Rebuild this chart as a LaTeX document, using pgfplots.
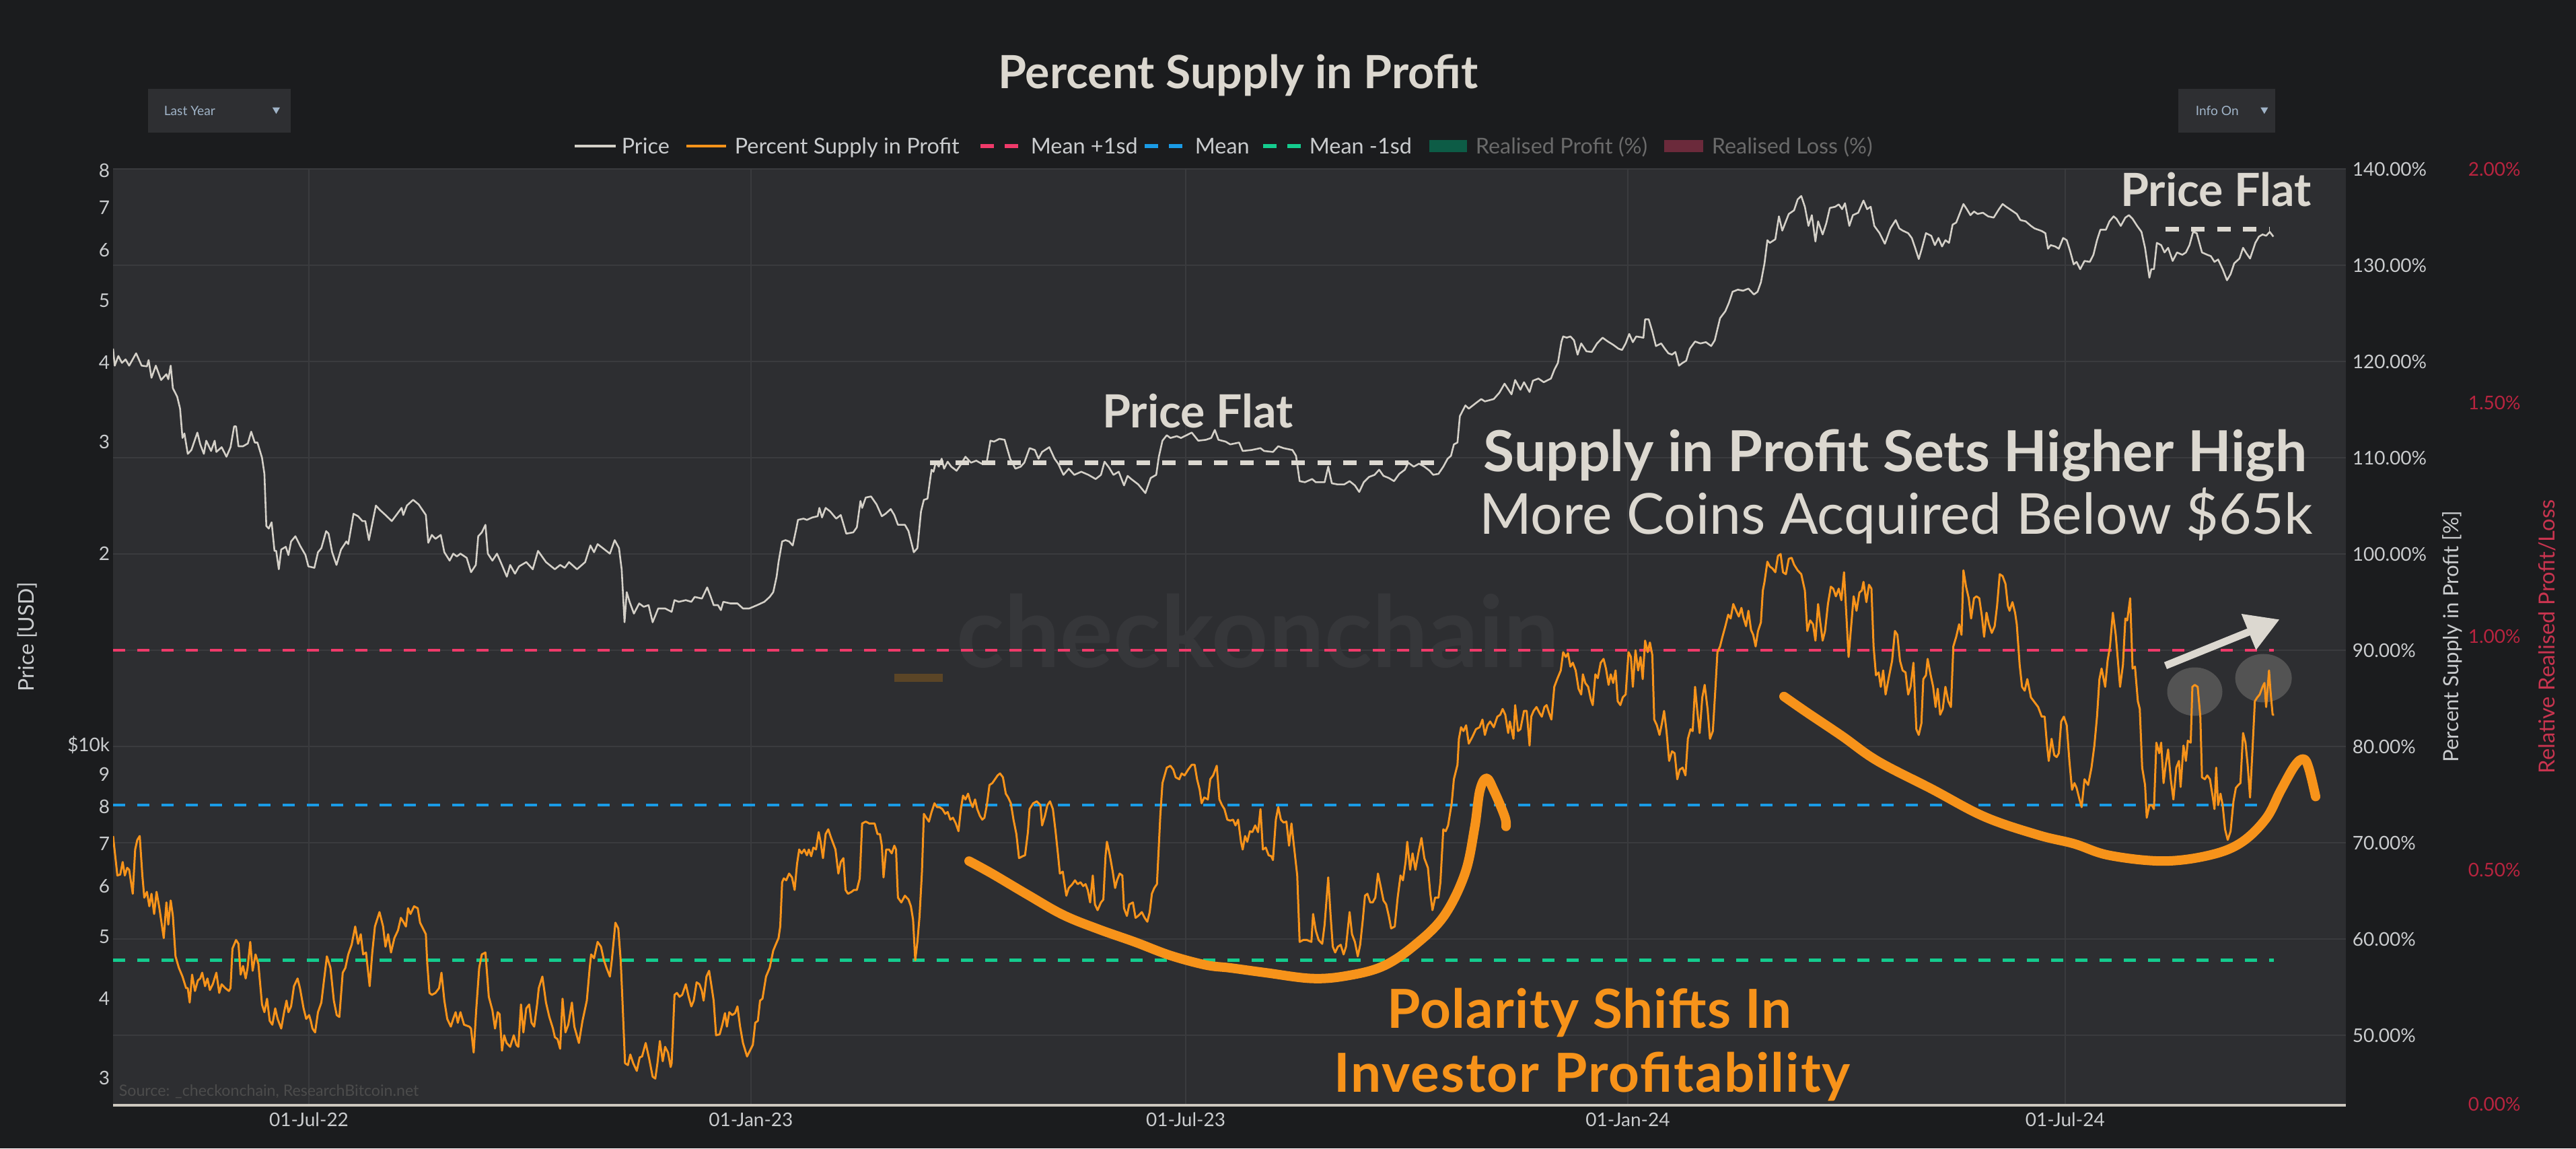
\documentclass[border=0pt]{standalone}
\usepackage{fontspec}
\setmainfont{Lato}
\usepackage{pgfplots}
\pgfplotsset{compat=1.18}
\usetikzlibrary{arrows.meta}
\definecolor{bgout}{HTML}{1B1C1E}
\definecolor{bgplot}{HTML}{2D2E31}
\definecolor{gridc}{HTML}{3A3B3E}
\definecolor{txt}{HTML}{DCD8D0}
\definecolor{tickc}{HTML}{CACCCE}
\definecolor{pricec}{HTML}{D4D0C8}
\definecolor{orangec}{HTML}{F7931A}
\definecolor{pinkc}{HTML}{F03A6A}
\definecolor{bluec}{HTML}{1A9BE6}
\definecolor{greenc}{HTML}{14CC8E}
\definecolor{redax}{HTML}{B8243F}
\definecolor{redlab}{HTML}{C8344F}
\definecolor{wm}{HTML}{36373A}
\definecolor{brownc}{HTML}{5B4526}
\definecolor{axline}{HTML}{CDC8BF}
\definecolor{rpgreen}{HTML}{0D5C46}
\definecolor{rlred}{HTML}{6B2A3B}
\definecolor{leggray}{HTML}{6A6A6A}
\definecolor{dropbg}{HTML}{2E2F32}
\definecolor{droptxt}{HTML}{A0B4C8}
\definecolor{circc}{HTML}{5A5A5A}
\begin{document}
\begin{tikzpicture}[x=1pt,y=1pt]
\fill[bgout] (0,0) rectangle (957,426.5);
\useasboundingbox (0,0) rectangle (957,426.5);

% ---------- Axis A : percent supply in profit ----------
\begin{axis}[
  at={(42pt,16.5pt)}, anchor=south west,
  width=829.5pt, height=347.25pt, scale only axis,
  xmin=-81.5, xmax=847.9, ymin=42.87, ymax=140,
  axis background/.style={fill=bgplot},
  axis line style={draw=none},
  major tick length=0pt, minor tick length=0pt,
  xtick={0,184,365,549,731},
  xticklabels={01-Jul-22,01-Jan-23,01-Jul-23,01-Jan-24,01-Jul-24},
  ytick={50,60,70,80,90,100,110,120,130,140},
  yticklabels={50.00\%,60.00\%,70.00\%,80.00\%,90.00\%,100.00\%,110.00\%,120.00\%,130.00\%,140.00\%},
  yticklabel pos=right,
  grid=major, grid style={gridc, line width=0.5pt},
  ticklabel style={font=\fontsize{7}{8}\selectfont, color=tickc},
  yticklabel style={anchor=west, inner sep=0pt, xshift=2.25pt},
  xticklabel style={anchor=center, inner sep=0pt, yshift=-5.75pt},
]
\node[anchor=base, font=\bfseries\fontsize{36.8}{40}\selectfont, color=wm] at (axis cs:395.1,88.25) {checkonchain};
\fill[brownc] (axis cs:243.7,87.55) rectangle (axis cs:263.9,86.7);
\addplot[pinkc, line width=1.1pt, dash pattern=on 4.6pt off 4.4pt] coordinates {(-81.5,90.0) (818,90.0)};
\addplot[bluec, line width=1.1pt, dash pattern=on 4.6pt off 4.4pt] coordinates {(-81.5,73.9) (818,73.9)};
\addplot[greenc, line width=1.1pt, dash pattern=on 4.6pt off 4.4pt] coordinates {(-81.5,57.8) (818,57.8)};
\fill[circc, opacity=0.85] (axis cs:785.0,85.7) ellipse [x radius=10.25pt, y radius=9pt];
\fill[circc, opacity=0.85] (axis cs:813.6,87.1) ellipse [x radius=10.5pt, y radius=9pt];
\addplot[orangec, line width=0.75pt, line join=round] coordinates {
(-81.5,70.7) (-79.7,66.6) (-78.5,66.7) (-77.5,68.0) (-76.6,66.6) (-75.6,67.4) (-74.8,67.2) (-73.3,64.7) (-72.3,69.3) (-71.4,70.3) (-70.4,70.7) (-69.3,66.6) (-68.5,64.3) (-67.4,64.9) (-66.4,63.4) (-65.5,64.7) (-64.4,62.6) (-63.4,64.9) (-62.2,63.2) (-60.4,60.1) (-59.3,63.8) (-58.5,61.5) (-57.5,64.0) (-56.6,62.4) (-55.5,58.2) (-54.1,57.0) (-52.6,56.1) (-51.1,54.9) (-50.4,54.9) (-49.6,53.4) (-48.6,56.3) (-47.4,54.6) (-46.2,55.7) (-45.2,55.9) (-44.4,56.5) (-43.2,55.1) (-42.2,55.9) (-41.2,54.7) (-40.0,55.3) (-38.5,56.5) (-37.3,54.4) (-36.3,55.3) (-34.8,54.9) (-33.3,54.6) (-32.6,54.9) (-31.8,59.0) (-30.3,59.9) (-29.3,59.5) (-28.4,56.3) (-27.4,57.2) (-26.3,55.9) (-25.5,57.0) (-24.4,59.7) (-23.4,56.7) (-22.2,58.4) (-21.0,57.4) (-19.5,53.2) (-18.5,52.4) (-17.4,53.8) (-16.3,51.5) (-15.2,51.1) (-14.0,52.8) (-13.0,51.7) (-11.5,50.7) (-10.3,52.4) (-9.3,53.6) (-8.5,52.4) (-7.4,53.0) (-6.2,55.1) (-4.7,55.9) (-3.7,54.9) (-2.2,52.8) (-1.1,51.7) (0.1,52.1) (0.8,51.5) (1.5,50.7) (2.6,50.3) (3.8,52.4) (5.2,53.4) (6.3,55.7) (7.5,58.2) (9.0,57.0) (10.4,53.6) (11.6,52.1) (12.7,51.9) (14.1,56.5) (15.2,57.0) (16.4,58.4) (17.8,59.4) (19.3,61.3) (20.5,59.5) (21.6,60.5) (22.6,58.4) (23.8,58.6) (25.3,55.1) (26.4,58.6) (27.5,61.3) (29.4,62.8) (30.9,61.3) (31.9,59.2) (33.0,60.5) (34.2,58.6) (35.6,60.1) (37.1,60.9) (38.3,62.2) (39.3,61.8) (40.4,61.3) (41.3,63.2) (42.3,62.6) (43.8,63.4) (45.3,63.2) (46.3,61.7) (47.5,61.1) (48.7,60.5) (49.3,57.4) (50.2,54.4) (51.2,54.2) (52.7,54.4) (54.2,54.9) (55.2,56.5) (56.4,53.6) (57.6,51.7) (59.1,50.9) (60.1,51.7) (61.1,52.4) (62.0,51.3) (63.1,52.4) (64.6,51.1) (66.8,50.9) (67.5,50.7) (68.6,48.2) (69.7,52.8) (70.9,57.0) (72.0,58.4) (73.5,58.6) (74.9,54.0) (76.4,52.6) (77.5,50.7) (78.6,52.4) (79.4,52.2) (80.4,48.4) (81.3,50.0) (82.3,49.2) (83.8,48.8) (85.3,50.0) (86.4,49.0) (87.2,48.8) (88.3,53.2) (89.3,50.3) (90.5,52.8) (91.7,53.2) (92.7,51.3) (93.8,50.9) (95.0,53.2) (95.7,54.9) (97.2,56.1) (98.7,53.4) (100.1,51.9) (101.6,50.7) (102.4,49.8) (103.5,49.6) (104.6,48.6) (105.6,53.8) (106.8,50.3) (108.0,51.1) (109.5,53.4) (110.5,50.9) (112.4,49.2) (113.9,51.5) (115.7,53.6) (116.9,57.0) (117.5,58.4) (118.7,58.0) (120.2,59.7) (121.6,59.2) (122.8,57.8) (123.9,57.0) (125.3,56.1) (126.1,57.8) (127.6,61.7) (128.8,61.1) (129.8,57.8) (130.5,53.8) (131.6,47.1) (132.8,46.9) (133.8,48.0) (135.0,47.1) (136.5,46.3) (137.7,47.7) (138.7,47.8) (140.2,49.2) (141.7,47.5) (143.1,45.7) (144.2,45.5) (145.1,47.1) (146.1,49.4) (147.3,47.3) (148.3,48.8) (149.5,48.2) (150.6,46.7) (151.0,47.1)
(152.2,54.2) (153.2,54.4) (154.3,54.0) (155.4,54.2) (156.9,55.3) (158.1,54.0) (159.2,53.0) (160.2,53.6) (161.4,55.5) (162.6,55.3) (163.6,54.6) (164.3,53.6) (165.5,56.1) (166.6,56.7) (167.6,55.1) (168.5,53.6) (169.5,50.0) (171.0,50.1) (172.1,51.1) (173.2,52.3) (174.0,50.9) (175.0,52.4) (176.2,52.1) (177.4,52.3) (178.4,53.0) (179.5,50.9) (180.7,49.2) (182.4,47.8) (183.6,48.4) (184.8,49.0) (185.8,51.3) (186.9,51.5) (187.8,53.6) (188.8,53.8) (190.3,56.1) (191.8,57.0) (193.3,58.8) (194.3,59.4) (195.5,60.1) (196.2,61.3) (197.0,65.9) (197.7,66.3) (198.7,66.1) (199.9,66.8) (201.1,66.4) (202.2,65.1) (203.2,67.8) (204.1,69.3) (205.1,68.9) (206.2,69.3) (207.3,68.7) (208.1,69.3) (209.1,68.6) (210.0,69.5) (211.1,69.3) (212.2,71.1) (213.0,70.1) (214.0,68.4) (215.1,70.9) (216.2,71.4) (217.4,70.5) (219.2,69.3) (220.4,66.8) (221.4,68.0) (222.5,68.4) (223.4,65.1) (224.4,64.7) (225.9,64.9) (226.9,65.1) (228.1,65.1) (229.3,66.3) (230.3,72.0) (231.8,72.2) (233.3,72.0) (235.5,72.0) (236.7,70.9) (237.7,70.9) (238.5,69.7) (239.2,66.4) (240.3,69.3) (241.5,69.3) (242.6,68.9) (243.7,69.7) (244.4,69.3) (245.2,64.3) (246.6,63.8) (248.1,64.5) (249.6,64.1) (250.6,63.4) (251.5,62.0) (252.4,57.8) (253.3,59.7) (254.2,62.4) (255.2,67.0) (256.0,73.0) (257.0,72.6) (258.1,72.2) (259.2,73.2) (260.4,74.1) (261.5,73.7) (262.5,73.7) (263.7,73.5) (264.9,73.0) (265.9,73.2) (267.0,72.4) (268.1,72.6) (269.3,72.0) (270.4,71.2) (271.4,73.5) (272.3,74.9) (273.3,74.5) (274.4,75.1) (275.3,74.3) (276.3,73.7) (277.3,74.5) (278.2,73.5) (279.3,72.8) (280.3,72.4) (281.2,72.6) (282.2,73.9) (283.3,76.0) (284.5,76.2) (285.6,76.6) (286.7,77.0) (287.7,77.2) (288.9,76.8) (290.1,75.1) (291.1,74.7) (292.2,74.1) (293.3,72.4) (294.5,70.9) (295.6,68.4) (297.1,68.6) (298.1,68.7) (299.3,71.1) (300.0,73.5) (301.5,74.1) (303.0,74.3) (304.5,73.9) (305.2,71.8) (306.4,72.8) (307.4,73.9) (308.5,74.3) (309.7,73.5) (310.8,71.2) (311.9,68.6) (312.6,66.8) (313.8,67.0) (315.3,64.5) (316.3,65.3) (317.8,65.7) (318.9,66.1) (320.0,65.7) (321.2,65.9) (322.3,65.5) (323.3,65.7) (324.2,65.1) (325.2,63.8) (326.3,66.6) (327.2,63.6) (328.3,63.0) (329.7,63.8) (330.7,64.1) (331.6,68.6) (332.2,70.1) (333.4,68.7) (334.6,67.0) (335.6,65.3) (336.4,66.1) (337.5,66.8) (338.6,66.6) (339.3,63.2) (340.5,62.4) (341.5,63.6) (343.0,63.8) (344.1,62.2) (345.2,62.4) (346.7,62.8) (347.9,62.2) (349.0,61.8) (350.0,62.8) (350.9,64.7) (351.9,65.3) (353.0,65.7) (353.8,69.7) (354.4,72.8) (355.3,76.2) (357.1,77.8) (358.6,78.0) (359.8,77.6) (360.8,76.8) (362.3,76.6) (363.3,77.2) (364.5,77.0) (366.0,77.6) (367.5,78.1) (368.7,78.1) (369.7,76.6) (370.8,75.5) (371.6,74.1) (372.7,74.7) (374.2,74.5) (375.2,76.6) (376.4,77.0) (377.9,78.0) (379.0,74.5) (380.1,73.9) (381.1,73.5) (382.3,72.4) (383.5,72.3)
(384.7,72.4) (385.7,71.8) (386.8,72.4) (388.0,70.1) (388.7,69.3) (389.7,70.7) (390.6,70.1) (391.7,71.2) (392.7,71.1) (393.9,71.8) (395.1,71.1) (396.1,73.5) (397.1,69.3) (398.3,69.5) (399.5,68.7) (400.6,68.6) (401.3,68.2) (402.5,72.4) (403.5,73.7) (404.6,72.4) (405.7,72.1) (406.9,72.2) (408.0,69.7) (409.0,72.0) (410.2,69.3) (411.4,66.6) (412.4,59.7) (413.9,59.9) (415.4,59.9) (417.3,59.7) (418.0,62.6) (419.1,60.9) (420.3,59.9) (421.8,59.5) (422.8,61.5) (424.3,66.4) (425.3,62.4) (426.2,59.2) (427.2,58.6) (428.3,59.2) (429.5,59.4) (430.7,58.4) (431.7,59.2) (433.2,62.8) (434.2,60.5) (435.4,59.7) (436.6,58.2) (437.6,59.4) (438.7,62.0) (439.6,64.5) (440.6,64.7) (441.8,63.8) (442.8,63.8) (443.9,64.3) (445.0,66.8) (446.1,65.5) (447.3,64.0) (448.4,63.6) (449.5,62.4) (450.5,61.1) (452.0,61.3) (453.2,64.3) (454.4,66.6) (455.4,66.1) (456.5,68.0) (457.2,70.1) (458.4,67.2) (459.4,68.9) (460.6,67.2) (461.8,68.9) (463.1,70.5) (464.3,68.4) (465.8,67.4) (466.8,64.7) (467.7,63.0) (468.8,64.3) (470.2,64.3) (471.0,65.9) (472.2,71.4) (473.2,71.2) (474.2,71.8) (475.1,73.2) (475.7,74.1) (476.6,76.6) (478.1,78.1) (478.7,80.8) (479.6,82.0) (480.6,81.6) (481.7,82.2) (482.8,80.3) (484.3,81.0) (485.8,81.8) (487.3,82.0) (488.5,82.8) (489.5,81.2) (490.6,82.2) (491.7,82.6) (493.2,82.0) (494.7,83.1) (495.9,83.3) (496.9,83.9) (498.0,83.3) (499.2,81.4) (499.9,82.6) (501.4,80.8) (502.1,84.3) (503.3,81.6) (504.3,81.8) (505.8,83.7) (506.9,83.7) (508.1,80.1) (508.8,83.1) (509.8,83.7) (511.0,84.1) (512.2,83.5) (513.2,83.1) (514.3,84.1) (515.2,84.3) (516.2,83.5) (517.2,82.8) (518.4,86.2) (519.6,87.0) (521.1,87.9) (522.1,89.8) (523.2,89.3) (524.1,89.7) (525.1,88.3) (526.1,88.7) (527.3,87.9) (528.5,86.0) (529.6,85.4) (530.3,87.5) (531.3,86.6) (532.5,86.2) (533.6,84.9) (534.4,84.3) (535.5,87.5) (536.5,87.1) (537.7,88.7) (538.9,89.1) (539.9,88.1) (541.0,86.4) (541.9,87.5) (542.9,86.6) (543.9,87.9) (544.8,84.7) (545.9,84.3) (546.9,85.1) (548.1,85.4) (549.3,89.8) (550.3,89.3) (551.1,86.2) (552.2,90.0) (553.3,87.9) (554.3,89.3) (555.2,87.0) (556.2,91.0) (557.3,89.8) (558.2,90.8) (559.2,89.5) (560.0,82.8) (561.1,82.2) (562.2,81.2) (563.2,82.4) (564.1,83.7) (565.1,81.6) (566.2,78.5) (567.4,79.5) (568.5,79.3) (569.6,76.6) (570.6,77.6) (571.8,77.8) (573.0,77.0) (574.0,80.8) (575.1,81.8) (576.0,81.6) (577.0,86.2) (578.0,83.5) (578.9,81.4) (580.0,85.1) (581.0,86.4) (582.2,83.9) (583.2,80.8) (584.4,81.6) (585.5,86.2) (586.3,89.8) (587.4,90.4) (588.4,91.4) (589.6,92.5) (590.8,93.7) (591.8,93.3) (592.9,94.8) (594.1,94.1) (595.2,93.5) (596.3,94.4) (597.0,93.5) (598.2,92.5) (599.2,94.1) (600.3,92.1) (601.2,91.6) (602.2,90.4) (603.2,92.0) (604.4,92.9) (605.2,96.2) (605.9,97.1) (607.1,99.2) (608.1,98.7) (609.2,98.5) (610.4,98.1) (611.5,99.8) (612.6,100.0) (613.6,98.1) (614.8,97.9) (616.0,99.5)
(617.2,99.6) (618.2,98.9) (619.7,98.3) (621.2,97.9) (622.7,96.2) (623.7,92.0) (624.9,93.1) (626.1,92.7) (627.1,91.0) (628.2,94.8) (629.0,93.1) (630.1,91.0) (631.1,92.0) (632.3,94.8) (633.5,96.6) (634.5,96.4) (635.6,95.6) (636.8,96.4) (637.9,95.2) (639.0,98.1) (640.0,93.5) (640.9,89.3) (641.9,92.3) (643.0,95.6) (644.2,94.1) (645.4,96.0) (646.4,96.2) (647.1,97.1) (648.3,95.0) (649.4,96.8) (650.4,96.4) (651.3,90.4) (652.3,87.4) (653.4,87.7) (654.3,86.2) (655.3,87.9) (656.3,85.4) (657.5,87.0) (659.0,88.9) (660.2,92.0) (661.2,91.6) (662.3,88.9) (663.4,87.9) (664.6,87.7) (665.7,85.4) (666.7,86.2) (667.9,88.7) (669.1,81.8) (670.1,81.2) (671.2,82.4) (672.0,87.0) (673.1,87.4) (673.8,89.1) (675.0,87.5) (676.1,86.2) (677.1,84.1) (678.0,86.0) (679.0,83.3) (680.1,83.9) (681.2,86.2) (682.4,84.7) (683.5,84.1) (684.5,90.4) (685.7,91.4) (686.9,92.7) (687.9,91.6) (688.7,98.3) (689.8,96.6) (690.9,95.4) (691.9,93.3) (693.1,95.4) (694.1,95.6) (695.3,95.4) (696.4,93.5) (697.3,91.4) (698.3,93.9) (699.3,92.7) (700.5,91.8) (701.7,92.5) (702.7,94.6) (703.8,97.9) (705.0,97.7) (706.2,96.9) (707.2,94.6) (707.9,94.1) (709.1,95.0) (710.2,93.9) (710.9,92.7) (712.1,88.5) (713.1,86.2) (714.2,85.8) (715.3,87.0) (716.8,85.1) (718.0,84.7) (719.8,84.1) (721.3,83.1) (722.5,83.1) (723.5,80.1) (724.2,78.5) (725.4,80.8) (726.5,79.1) (727.5,78.9) (728.4,79.3) (729.4,82.6) (730.5,83.1) (731.7,82.2) (732.8,78.5) (733.9,75.5) (734.9,76.2) (735.8,75.7) (736.8,74.7) (737.9,73.7) (739.1,76.6) (740.6,76.0) (742.0,77.8) (743.2,80.1) (744.3,83.1) (745.3,87.0) (746.2,88.1) (747.7,86.2) (748.7,88.9) (749.7,90.4) (750.9,93.9) (752.1,91.6) (753.2,88.3) (753.9,86.2) (755.1,88.5) (756.1,93.3) (756.9,93.1) (758.1,95.4) (759.1,88.1) (760.1,88.3) (761.3,84.7) (762.1,83.9) (763.1,77.8) (764.3,76.0) (765.0,72.6) (766.1,73.9) (767.2,73.9) (768.0,73.5) (769.0,80.4) (770.2,79.3) (771.0,80.4) (772.0,76.2) (772.9,78.1) (773.9,79.7) (775.0,76.6) (776.1,74.5) (777.3,77.8) (778.4,78.5) (779.1,75.8) (780.3,80.1) (781.3,78.5) (782.1,80.6) (783.3,80.4) (784.0,86.2) (785.0,86.4) (786.2,86.2) (787.3,83.1) (788.0,76.8) (789.2,76.6) (790.2,77.0) (791.3,76.6) (792.5,74.7) (793.2,73.5) (793.9,77.8) (794.7,73.9) (795.7,75.1) (796.6,73.9) (797.6,71.4) (798.7,70.3) (799.9,71.2) (801.1,74.3) (802.1,75.7) (803.1,76.0) (804.0,76.2) (805.1,81.4) (806.1,80.4) (807.0,78.1) (808.0,74.7) (809.1,80.1) (810.0,84.7) (811.0,85.1) (812.0,85.4) (813.2,86.2) (814.0,86.6) (814.7,84.1) (815.9,87.9) (816.5,85.8) (817.4,83.3) (818.0,83.3)
};
% hand drawn annotation curves
\draw[orangec, line width=3.5pt, line cap=round, line join=round] plot[smooth, tension=0.6] coordinates {(274.8,68.1) (284.3,66.8) (299.2,64.6) (314.0,62.5) (328.9,61.0) (343.7,59.7) (358.5,58.3) (373.4,57.3) (383.5,57.0) (398.3,56.5) (417.6,55.9) (432.5,56.2) (447.3,57.2) (460.5,59.4) (472.5,62.4) (481.2,66.8) (485.2,71.5) (487.4,75.4) (490.2,76.7) (493.3,75.4) (497.8,72.7) (498.3,71.7)};
\draw[orangec, line width=3.5pt, line cap=round, line join=round] plot[smooth, tension=0.6] coordinates {(614.0,85.2) (623.2,83.6) (638.1,81.1) (652.9,78.5) (675.4,75.6) (697.5,72.7) (719.9,70.8) (734.7,69.9) (749.3,68.7) (771.7,68.1) (791.0,68.7) (804.2,70.0) (814.6,72.5) (820.7,75.4) (826.6,78.0) (830.3,78.7) (832.5,77.7) (835.3,74.8)};
\draw[txt, line width=2.75pt, -{Triangle[length=12.4pt, width=13.7pt]}] (772.8,88.4) -- (820.3,93.2);
\end{axis}

% ---------- Axis B : price (log) ----------
\begin{axis}[
  at={(42pt,16.5pt)}, anchor=south west,
  width=829.5pt, height=347.25pt, scale only axis,
  xmin=-81.5, xmax=847.9, ymode=log, ymin=2729, ymax=80500,
  axis line style={draw=none},
  major tick length=0pt, minor tick length=0pt,
  xtick=\empty, minor ytick={},
  ytick={3000,4000,5000,6000,7000,8000,9000,10000,20000,30000,40000,50000,60000,70000,80000},
  yticklabels={3,4,5,6,7,8,9,\$10k,2,3,4,5,6,7,8},
  ticklabel style={font=\fontsize{7}{8}\selectfont, color=tickc},
  yticklabel style={anchor=east, inner sep=0pt, xshift=-1pt},
]
\addplot[pricec, line width=0.65pt, line join=round] coordinates {
(-81.5,42000) (-80.8,39500) (-79.3,40900) (-77.8,39900) (-76.3,40400) (-74.8,39500) (-71.9,41300) (-69.6,39500) (-67.4,39400) (-66.7,40300) (-65.5,37800) (-63.7,39500) (-61.5,37500) (-59.3,38300) (-58.5,37600) (-57.5,39500) (-56.6,36400) (-54.8,35300) (-53.6,33800) (-52.6,30400) (-51.8,30900) (-50.4,28700) (-48.9,29100) (-46.4,31000) (-45.2,29700) (-43.7,28700) (-42.7,30100) (-40.7,29000) (-39.2,30100) (-38.5,28900) (-36.3,29400) (-34.3,28400) (-32.6,29400) (-31.1,31700) (-30.3,31700) (-29.3,29500) (-27.4,29500) (-25.4,29800) (-24.0,31100) (-22.5,29900) (-21.4,29900) (-19.5,28300) (-18.5,26700) (-17.7,22100) (-16.7,21900) (-15.5,22400) (-14.3,20200) (-13.6,20200) (-12.5,18900) (-11.5,20300) (-9.6,20500) (-8.5,19900) (-7.4,20900) (-5.6,21300) (-3.7,20600) (-1.4,19900) (-0.2,19100) (2.3,19000) (3.8,20100) (5.2,20400) (7.2,21700) (8.2,21500) (9.7,20100) (11.5,19200) (13.4,20300) (15.6,20900) (16.4,20700) (18.6,23100) (20.5,22900) (22.3,22500) (23.5,22500) (25.0,21000) (27.9,23800) (29.7,23400) (31.9,23000) (34.5,22500) (36.4,23000) (38.6,23600) (39.3,23000) (40.8,23800) (43.4,24300) (45.7,23900) (48.7,23000) (49.7,20800) (51.2,21400) (52.7,21100) (54.9,21400) (56.4,20100) (58.6,19500) (60.1,20000) (61.6,19800) (63.1,20000) (65.7,19700) (67.5,18700) (69.5,19200) (70.5,21300) (72.0,21600) (73.5,22200) (74.5,20000) (76.4,19500) (78.3,20000) (80.1,19300) (82.4,18400) (83.8,19200) (85.8,18600) (87.5,19100) (90.5,19400) (93.2,18900) (95.4,20200) (98.7,19400) (102.4,18900) (104.6,19200) (106.5,19000) (108.3,19400) (111.6,18900) (115.0,19400) (117.2,20600) (118.7,20100) (120.2,20700) (123.1,20300) (125.3,20000) (127.3,21000) (129.1,20400) (130.2,18900) (131.4,15600) (132.3,17400) (133.5,16800) (135.3,16100) (137.5,16700) (139.4,16500) (141.4,16600) (143.1,15600) (145.4,16400) (148.3,16400) (151.0,16200)
(152.2,16900) (154.0,16800) (156.9,16900) (159.2,16800) (160.6,17100) (163.6,17000) (165.8,17700) (167.3,17100) (168.5,16600) (170.3,16600) (171.5,16300) (172.5,16800) (175.5,16700) (178.4,16700) (180.7,16400) (183.3,16400) (186.6,16600) (189.6,16800) (191.8,17100) (193.3,17400) (194.7,18400) (195.5,19400) (197.0,20900) (198.4,21000) (199.9,20900) (201.4,20600) (202.9,21900) (203.6,22600) (205.9,22700) (207.3,22600) (209.6,22800) (211.8,22900) (212.5,23600) (213.6,22800) (215.1,23600) (217.0,23300) (219.5,22700) (221.4,23000) (223.7,21500) (226.6,21600) (228.1,22000) (229.6,24200) (230.3,23600) (231.8,24500) (234.0,24600) (236.3,23900) (238.5,22900) (240.0,23100) (242.2,23500) (243.7,23000) (245.2,22200) (248.1,22200) (249.6,21700) (251.8,20100) (253.3,20400) (254.8,23300) (256.0,24300) (257.5,24400) (258.5,26000) (259.2,27100) (260.0,26900) (261.0,27900) (262.2,27400) (263.4,28200) (264.4,27200) (265.9,27900) (267.4,27400) (269.6,27000) (271.1,27500) (273.3,28400) (275.6,27800) (277.8,28000) (280.0,27700) (282.2,27900) (283.7,30100) (285.2,30000) (287.4,30300) (289.6,30200) (291.9,28200) (294.1,27200) (296.3,27400) (297.8,27800) (300.0,29300) (302.2,29100) (303.7,28200) (305.2,28900) (308.2,29400) (310.4,28200) (311.9,27700) (314.1,26600) (316.3,27200) (318.6,26600) (321.5,26900) (324.5,26600) (327.5,26200) (329.7,26600) (331.2,27900) (333.1,27300) (334.9,26600) (337.1,26900) (339.3,25600) (340.8,26500) (342.3,26200) (345.2,25700) (348.2,24900) (350.4,26300) (352.7,26600) (353.8,28400) (355.3,30100) (357.1,30700) (358.6,30400) (361.3,30600) (363.0,30400) (365.3,30700) (367.5,31000) (370.2,30100) (373.4,30200) (375.6,30400) (377.1,31300) (378.6,30200) (381.6,30000) (383.5,29700)
(387.2,29900) (388.7,29000) (392.4,29100) (396.1,29300) (397.6,29000) (401.3,28900) (403.5,29500) (405.7,29300) (409.4,29100) (410.9,28500) (412.4,26000) (414.6,25900) (417.6,26200) (419.1,25900) (422.8,25900) (424.3,27400) (425.8,25800) (428.0,25700) (431.0,25700) (433.2,26000) (435.4,25600) (437.2,25000) (439.1,25900) (441.3,26400) (443.6,26600) (445.5,27100) (447.3,26500) (449.5,26300) (451.7,26000) (453.9,26700) (456.2,27100) (457.6,27800) (459.9,27400) (462.1,27700) (464.3,27400) (466.5,27000) (468.0,26600) (470.2,26700) (472.2,27400) (474.0,28200) (475.4,28500) (476.6,29700) (478.1,29900) (479.1,32900) (481.4,34200) (482.8,33800) (485.8,34500) (488.0,35000) (489.5,34700) (493.2,35000) (495.5,35800) (497.7,37000) (500.6,35600) (502.1,37500) (504.3,36200) (505.8,37200) (508.1,35900) (509.5,37400) (511.8,37700) (514.0,37200) (517.0,37700) (518.4,38900) (519.9,39900) (521.4,43100) (522.1,43900) (523.6,43700) (525.1,43900) (526.6,43300) (528.1,41100) (529.6,42800) (531.8,41600) (534.0,41500) (536.2,42800) (538.5,43700) (540.7,43100) (542.9,42600) (545.1,42000) (546.6,41800) (548.1,42800) (549.6,44300) (551.1,43000) (552.5,43900) (555.5,43700) (556.2,46700) (557.7,46700) (559.2,44700) (560.7,42400) (562.9,42800) (564.4,42000) (565.9,41300) (567.4,41100) (568.8,41500) (570.3,39500) (571.8,39900) (573.3,40200) (574.8,42000) (577.0,43100) (579.2,42800) (581.5,43000) (583.7,42400) (585.2,43300) (587.4,46900) (589.6,48100) (591.1,49600) (592.6,51600) (594.8,52000) (597.0,51800) (599.2,52200) (601.5,51100) (603.0,51600) (604.4,53400) (605.9,57200) (607.1,62200) (608.1,61600) (610.4,62400) (611.9,67800) (613.3,64400) (614.8,66600) (616.0,68400)
(618.2,69300) (619.7,72100) (621.2,73000) (622.7,70200) (624.2,65500) (625.6,68100) (627.1,61900) (628.2,66600) (630.1,63500) (631.6,66100) (633.1,69900) (635.3,70200) (636.8,70800) (638.2,69600) (639.4,71100) (641.2,65500) (642.7,68100) (644.9,68700) (647.1,71800) (648.6,69600) (650.1,70200) (651.6,65500) (653.8,63800) (656.0,61400) (658.3,64900) (660.5,66900) (662.0,64900) (663.4,64400) (665.7,63800) (667.2,62700) (668.6,60500) (670.1,58100) (671.2,60000) (673.1,63800) (675.3,63200) (676.8,61100) (678.3,62700) (679.8,60800) (681.2,62200) (682.7,61600) (684.2,65800) (685.7,66300) (688.7,70900) (690.1,69600) (691.6,68100) (693.1,69000) (694.6,68400) (696.8,68700) (699.0,67800) (701.3,67500) (703.5,69600) (705.0,70900) (706.5,70200) (708.7,69300) (710.9,68400) (712.4,66900) (714.6,66600) (716.8,65500) (718.3,64900) (719.8,64600) (721.3,64300) (722.8,63800) (723.9,60300) (725.0,61100) (726.9,60800) (728.4,60300) (730.2,62700) (731.7,62200) (733.1,59800) (734.6,57000) (735.8,57500) (737.3,56000) (739.1,57700) (741.3,57500) (742.8,59000) (744.3,62200) (745.7,64600) (748.0,64600) (749.5,66600) (751.2,67800) (752.4,67200) (754.2,65500) (756.1,67500) (757.6,68100) (759.1,67200) (761.0,65500) (762.8,64100) (764.3,60500) (766.1,54300) (766.9,56000) (768.0,56000) (769.2,61600) (771.0,61100) (772.4,59500) (773.9,60500) (775.8,57700) (777.6,59500) (779.8,59000) (781.3,59500) (782.8,61100) (784.3,64100) (785.8,63800) (788.0,59500) (790.2,59000) (791.7,58700) (793.2,57500) (794.7,58000) (796.6,56000) (798.4,53800) (799.9,55000) (801.4,57200) (803.6,58200) (805.1,60500) (806.5,59300) (808.0,58200) (810.2,61600) (811.7,63000) (813.2,63500) (814.7,63200) (816.2,64100) (817.7,63000)
};
\draw[txt, line width=1.75pt, dash pattern=on 5pt off 4.6pt] (258.5,27800) -- (471.7,27800);
\draw[txt, line width=1.75pt, dash pattern=on 5pt off 4.6pt] (772.8,64800) -- (816.2,64800);
\end{axis}

% ---------- Axis C : relative realised profit/loss ----------
\begin{axis}[
  at={(42pt,16.5pt)}, anchor=south west,
  width=829.5pt, height=347.25pt, scale only axis,
  xmin=-81.5, xmax=847.9, ymin=0, ymax=2,
  axis line style={draw=none},
  major tick length=0pt, minor tick length=0pt,
  xtick=\empty,
  ytick={0,0.5,1,1.5,2},
  yticklabels={0.00\%,0.50\%,1.00\%,1.50\%,2.00\%},
  yticklabel pos=right,
  ticklabel style={font=\fontsize{7}{8}\selectfont, color=redax},
  yticklabel style={anchor=west, inner sep=0pt, xshift=45.25pt},
]
\end{axis}

% bottom axis line
\draw[axline, line width=1pt] (42,16.1) -- (871.5,16.1);

% source
\node[anchor=base west, inner sep=0pt, font=\fontsize{5.8}{7}\selectfont, color=leggray!120] at (44,19.5) {Source: \_checkonchain, ResearchBitcoin.net};

% title
\node[anchor=base, font=\bfseries\fontsize{17}{20}\selectfont, color=txt] at (460,393.5) {Percent Supply in Profit};

% dropdowns
\fill[dropbg] (55,377.2) rectangle (108,393.5);
\node[anchor=west, inner sep=0pt, font=\fontsize{4.8}{6}\selectfont, color=droptxt] at (60.75,385.4) {Last Year};
\fill[droptxt] (101.2,386.6) -- (104.0,386.6) -- (102.6,384.2) -- cycle;
\fill[dropbg] (809.25,377.2) rectangle (845.25,393.5);
\node[anchor=west, inner sep=0pt, font=\fontsize{4.8}{6}\selectfont, color=droptxt] at (815.5,385.4) {Info On};
\fill[droptxt] (839.8,386.6) -- (842.6,386.6) -- (841.2,384.2) -- cycle;

% legend
\begin{scope}[font=\fontsize{8.1}{9}\selectfont]
\draw[pricec, line width=1pt] (213.5,372.25) -- (228.75,372.25);
\node[anchor=base west, inner sep=0pt, color=tickc] at (230.75,369.3) {Price};
\draw[orangec, line width=1pt] (255,372.25) -- (269.75,372.25);
\node[anchor=base west, inner sep=0pt, color=tickc] at (272.75,369.3) {Percent Supply in Profit};
\draw[pinkc, line width=1.4pt, dash pattern=on 5pt off 4pt] (364.25,372.25) -- (378.25,372.25);
\node[anchor=base west, inner sep=0pt, color=tickc] at (382.75,369.3) {Mean +1sd};
\draw[bluec, line width=1.4pt, dash pattern=on 5pt off 4pt] (425.25,372.25) -- (439.25,372.25);
\node[anchor=base west, inner sep=0pt, color=tickc] at (443.75,369.3) {Mean};
\draw[greenc, line width=1.4pt, dash pattern=on 5pt off 4pt] (469.25,372.25) -- (483.25,372.25);
\node[anchor=base west, inner sep=0pt, color=tickc] at (486.25,369.3) {Mean -1sd};
\fill[rpgreen] (531,370) rectangle (545,374.5);
\node[anchor=base west, inner sep=0pt, color=leggray] at (548,369.3) {Realised Profit (\%)};
\fill[rlred] (618.25,370) rectangle (632.75,374.5);
\node[anchor=base west, inner sep=0pt, color=leggray] at (635.75,369.3) {Realised Loss (\%)};
\end{scope}

% axis titles
\node[rotate=90, font=\fontsize{8}{9}\selectfont, color=tickc] at (10.25,190) {Price [USD]};
\node[rotate=90, font=\fontsize{7.8}{9}\selectfont, color=tickc] at (911,190) {Percent Supply in Profit [\%]};
\node[rotate=90, font=\fontsize{8.2}{9}\selectfont, color=redlab] at (946.25,190) {Relative Realised Profit/Loss};

% annotations
\node[anchor=base, inner sep=0pt, font=\bfseries\fontsize{17}{19}\selectfont, color=txt] at (445,267.6) {Price Flat};
\node[anchor=base, inner sep=0pt, font=\bfseries\fontsize{17}{19}\selectfont, color=txt] at (823.25,349.75) {Price Flat};
\node[anchor=base, inner sep=0pt, font=\bfseries\fontsize{21}{23}\selectfont, color=txt] at (704.1,251.5) {Supply in Profit Sets Higher High};
\node[anchor=base, inner sep=0pt, font=\fontsize{21}{23}\selectfont, color=txt] at (704.4,228.25) {More Coins Acquired Below \$65k};
\node[anchor=base, inner sep=0pt, font=\bfseries\fontsize{20}{22}\selectfont\addfontfeatures{LetterSpace=1.5}, color=orangec] at (590.5,44.75) {Polarity Shifts In};
\node[anchor=base, inner sep=0pt, font=\bfseries\fontsize{20}{22}\selectfont\addfontfeatures{LetterSpace=2.5}, color=orangec] at (591.5,21) {Investor Profitability};
\end{tikzpicture}
\end{document}
